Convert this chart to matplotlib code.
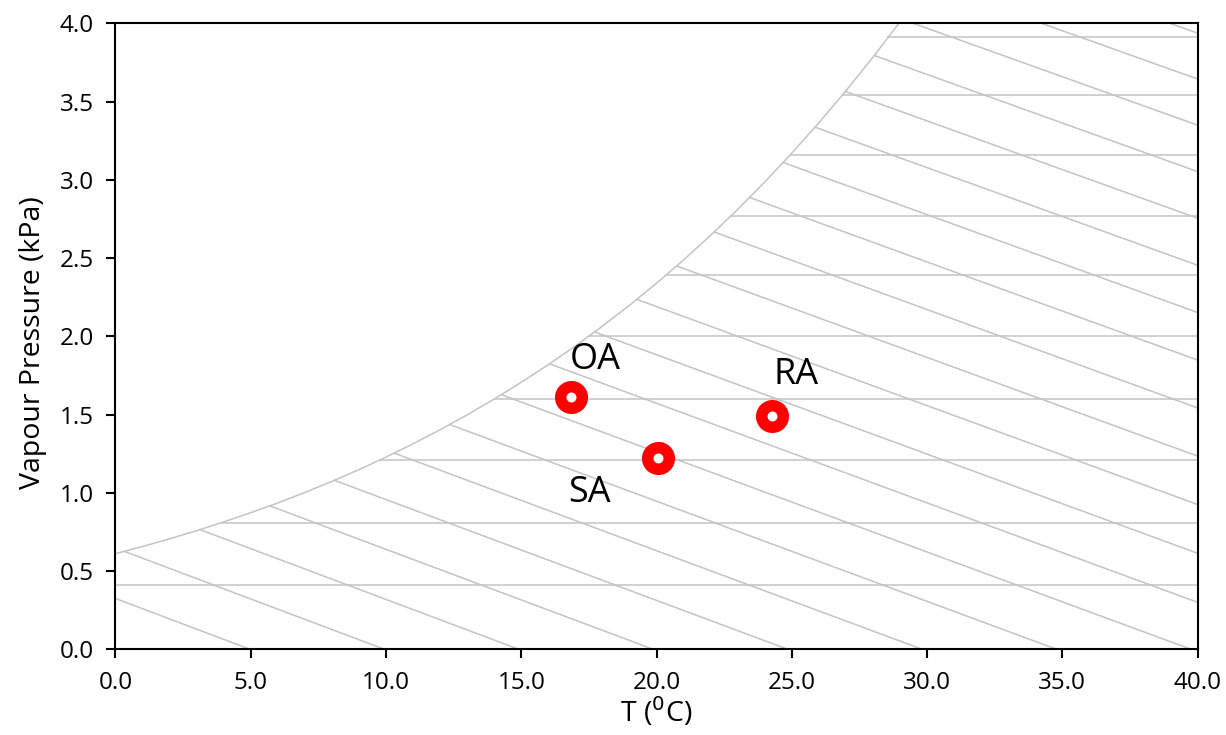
import numpy as np
import matplotlib
matplotlib.use("Agg")
import matplotlib.pyplot as plt

plt.rcParams['font.family'] = ['Open Sans', 'DejaVu Sans']

# saturation vapour pressure table (degC, kPa)
sat_T = [0, 1, 2, 3, 4, 5, 6, 7, 8, 9, 10, 11, 12, 13, 14, 15, 16, 17, 18, 19, 20,
         21, 22, 23, 24, 25, 26, 27, 28, 29, 30]
sat_p = [0.611, 0.657, 0.706, 0.758, 0.814, 0.873, 0.935, 1.002, 1.073, 1.148, 1.228,
         1.313, 1.403, 1.498, 1.599, 1.706, 1.819, 1.938, 2.065, 2.198, 2.339,
         2.488, 2.645, 2.811, 2.986, 3.170, 3.364, 3.568, 3.783, 4.009, 4.247]

# constant moisture lines (vapour pressure, kPa)
moist_p = [0.41, 0.81, 1.21, 1.60, 2.00, 2.39, 2.77, 3.16, 3.54, 3.91]

# constant enthalpy lines (kJ/kg)
enthalpy = [5, 10, 15, 20, 25, 30, 35, 40, 45, 50, 55, 60, 65, 70, 75, 80, 85,
            90, 95, 100, 105]

# air states
states = ["OA", "SA", "RA"]
state_T = [16.85, 20.07, 24.28]
state_p = [1.614, 1.224, 1.49]
label_T = [17.75, 17.52, 25.14]
label_p = [1.85, 1.00, 1.75]

P_atm = 101.325
grid = "#c3c3c3"

fig = plt.figure(figsize=(12.26, 7.35), dpi=100)
ax = fig.add_axes([0.0942, 0.1166, 0.8826, 0.8517])

# saturation curve
ax.plot(sat_T, sat_p, color=grid, lw=1.1, zorder=2)

# horizontal lines from the curve to the right edge
for p in moist_p:
    t0 = np.interp(p, sat_p, sat_T)
    ax.plot([t0, 40], [p, p], color=grid, lw=1.1, zorder=1)

# enthalpy lines under the curve
pp = np.linspace(0, 4.3, 3000)
ww = 0.622 * pp / (P_atm - pp)
for h in enthalpy:
    tt = (h - 2501 * ww) / (1.006 + 1.86 * ww)
    below = pp <= np.interp(tt, sat_T, sat_p)
    ax.plot(tt[below], pp[below], color=grid, lw=1.1, zorder=1)

ax.plot(state_T, state_p, linestyle="none", marker="o", ms=15.5, mew=8.3,
        mec="#ff0000", mfc="white", zorder=5)
for name, tx, ty in zip(states, label_T, label_p):
    ax.text(tx, ty, name, fontsize=26, ha="center", va="center", zorder=6)

ax.set_xlim(0, 40)
ax.set_ylim(0, 4.0)
ax.set_xticks(np.arange(0, 40.1, 5))
ax.set_yticks(np.arange(0, 4.01, 0.5))
ax.xaxis.set_major_formatter(matplotlib.ticker.FormatStrFormatter("%.1f"))
ax.yaxis.set_major_formatter(matplotlib.ticker.FormatStrFormatter("%.1f"))
ax.tick_params(direction="out", length=6.5, width=1.5, labelsize=17.5, pad=9)
for s in ax.spines.values():
    s.set_linewidth(1.5)

ax.set_xlabel(r"T ($^{0}$C)", fontsize=20.5, labelpad=0)
ax.set_ylabel("Vapour Pressure (kPa)", fontsize=20.5)
ax.yaxis.set_label_coords(-0.063, 0.49)

fig.savefig("out.png", dpi=100)
